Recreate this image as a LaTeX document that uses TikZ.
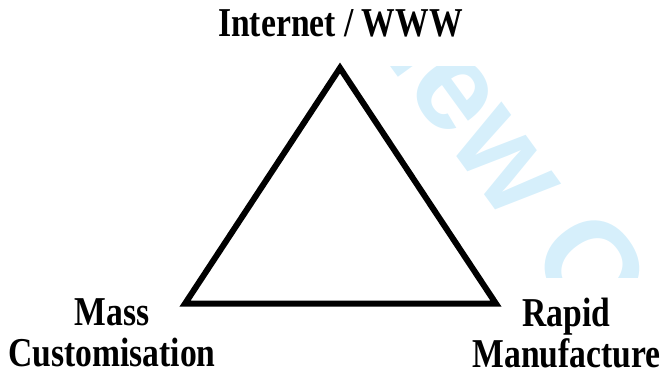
\documentclass[tikz,border=0pt]{standalone}
\usepackage{fontspec}
\setmainfont{Liberation Serif}
\newfontfamily\labfont{Liberation Serif}[FakeStretch=0.82]
\newfontfamily\wmfont{Liberation Sans}
\definecolor{wmcyan}{RGB}{214,239,251}
\begin{document}
\begin{tikzpicture}[x=1pt,y=-1pt,
  lab/.style={inner sep=0pt,font=\labfont\bfseries\fontsize{41}{41}\selectfont,align=center},
  wm/.style={inner sep=0pt,text=wmcyan,font=\wmfont\bfseries\fontsize{130}{130}\selectfont},
  tri/.style={line width=6pt,line join=miter}]
\useasboundingbox (0,0) rectangle (661,374);
\begin{scope}
  \clip (0,67) rectangle (661,277);
  \node[wm,rotate=-54] (wmk) at (522,168) {iew O};
\end{scope}
\coordinate (A) at (340,68);
\coordinate (B) at (185,303.7);
\coordinate (C) at (496,303.7);
\draw[tri] (A) -- (B) -- (C) -- cycle;
\node[lab,anchor=base] (inet) at (340.5,37) {Internet / WWW};
\node[lab,anchor=north] (mass) at (112,298.5) {Mass\\Customisation};
\node[lab,anchor=north] (rapid) at (566.5,298) {Rapid\\Manufacture};
\end{tikzpicture}
\end{document}
